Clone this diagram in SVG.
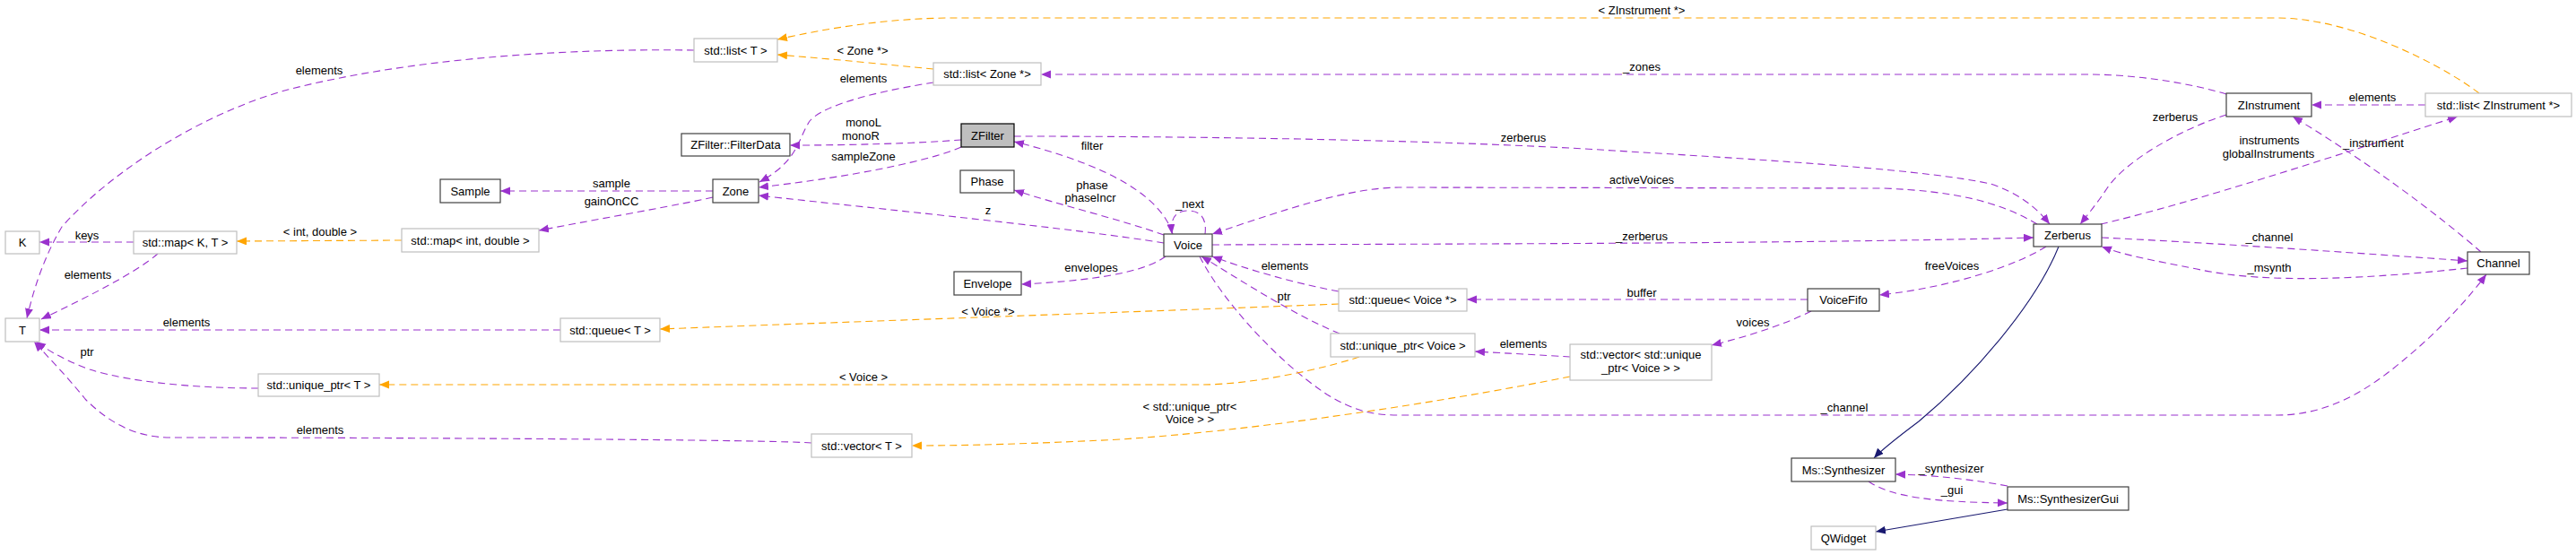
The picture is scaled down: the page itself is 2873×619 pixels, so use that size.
<svg xmlns="http://www.w3.org/2000/svg" width="2873" height="619" viewBox="0 0 2873 619">
<defs>
<style>
text{font-family:"Liberation Sans",Arial,sans-serif;font-size:13px;text-anchor:middle;fill:#000}
.n rect{fill:#fff;stroke:#404040;stroke-width:1.2}
.x rect{fill:#fff;stroke:#bfbfbf;stroke-width:1.2}
.m rect{fill:#bfbfbf;stroke:#000;stroke-width:1.2}
.u{fill:none;stroke:#9a32cd;stroke-width:1.1;stroke-dasharray:8,5;marker-end:url(#ap)}
.o{fill:none;stroke:#ffa500;stroke-width:1.1;stroke-dasharray:8,5;marker-end:url(#ao)}
.b{fill:none;stroke:#191970;stroke-width:1.1;marker-end:url(#ab)}
</style>
<marker id="ap" markerUnits="userSpaceOnUse" markerWidth="12" markerHeight="10" refX="11" refY="4.5" orient="auto"><path d="M0,0 L11,4.5 L0,9 z" fill="#9a32cd"/></marker>
<marker id="ao" markerUnits="userSpaceOnUse" markerWidth="12" markerHeight="10" refX="11" refY="4.5" orient="auto"><path d="M0,0 L11,4.5 L0,9 z" fill="#ffa500"/></marker>
<marker id="ab" markerUnits="userSpaceOnUse" markerWidth="12" markerHeight="10" refX="11" refY="4.5" orient="auto"><path d="M0,0 L11,4.5 L0,9 z" fill="#191970"/></marker>
</defs>
<rect width="2873" height="619" fill="#fff"/>
<g id="edges">
<path class="u" d="M774,56 C650,54 470,62 321,100 C220,128 120,195 69,253 C50,285 38,320 30,355"/>
<path class="u" d="M149,270 L44,270"/>
<path class="u" d="M176,283 C150,305 100,330 46,356"/>
<path class="u" d="M625,368 L44,368"/>
<path class="u" d="M288,433 C230,433 150,428 100,412 C78,404 58,394 40,381"/>
<path class="u" d="M905,494 C850,490 400,488 190,488 C150,488 120,470 95,445 C75,420 55,400 38,381"/>
<path class="u" d="M795,213 L558,213"/>
<path class="u" d="M795,220 C760,228 680,242 601,257"/>
<path class="u" d="M1041,92 C990,100 920,115 903,135 C890,155 890,180 847,203"/>
<path class="u" d="M1072,156 C1020,160 950,162 881,162"/>
<path class="u" d="M1072,164 C1040,178 960,196 846,209"/>
<path class="u" d="M1298,271 C1200,255 1000,235 846,218"/>
<path class="u" d="M1308,261 C1295,220 1240,185 1131,158"/>
<path class="u" d="M1298,262 C1250,245 1180,228 1131,212"/>
<path class="u" d="M1344,261 C1346,245 1340,235 1325,235 C1312,235 1305,242 1307,261"/>
<path class="u" d="M1300,286 C1280,300 1240,312 1139,317"/>
<path class="u" d="M2272,250 C2230,225 2180,213 2100,210 L1560,209 C1500,210 1430,235 1352,261"/>
<path class="u" d="M1352,273 C1600,272 2000,272 2268,265"/>
<path class="u" d="M1131,152 C1300,152 1600,155 1800,168 C2000,180 2150,190 2220,205 C2250,215 2270,230 2286,250"/>
<path class="u" d="M2483,105 C2440,92 2380,83 2329,83 L1161,83"/>
<path class="u" d="M2483,128 C2430,145 2370,180 2350,210 C2338,228 2328,240 2320,250"/>
<path class="u" d="M2705,117 L2578,117"/>
<path class="u" d="M2343,250 C2450,225 2600,175 2741,130"/>
<path class="u" d="M2767,281 C2720,240 2640,180 2557,130"/>
<path class="u" d="M2344,265 C2450,270 2600,280 2752,291"/>
<path class="u" d="M2752,299 C2650,310 2530,318 2450,300 C2400,290 2370,285 2344,275"/>
<path class="u" d="M2282,275 C2250,295 2180,320 2096,329"/>
<path class="u" d="M2016,334 L1636,334"/>
<path class="u" d="M2020,347 C1990,362 1950,375 1909,385"/>
<path class="u" d="M1751,398 C1720,396 1680,394 1645,392"/>
<path class="u" d="M1493,325 C1440,315 1390,300 1352,286"/>
<path class="u" d="M1494,372 C1440,350 1380,310 1340,286"/>
<path class="u" d="M1338,286 C1360,330 1420,400 1480,440 C1510,458 1530,463 1560,463 L2540,463 C2610,463 2660,420 2700,385 C2730,358 2755,330 2773,306"/>
<path class="u" d="M2239,542 C2200,535 2160,530 2114,529"/>
<path class="u" d="M2084,537 C2110,555 2160,560 2239,561"/>
<path class="o" d="M1041,77 C990,72 930,66 867,61"/>
<path class="o" d="M2765,104 C2720,70 2620,20 2540,20 L1063,20 C990,20 920,32 867,44"/>
<path class="o" d="M448,268 L264,269"/>
<path class="o" d="M1493,339 C1400,343 1000,357 736,367"/>
<path class="o" d="M1516,398 C1480,410 1400,429 1340,429 L423,429"/>
<path class="o" d="M1751,420 C1600,450 1400,480 1250,490 C1150,495 1080,497 1017,497"/>
<path class="b" d="M2296,275 C2270,340 2200,420 2140,470 C2120,485 2100,500 2090,511"/>
<path class="b" d="M2239,568 L2092,593"/>
<g id="edge-labels">
<text x="356" y="83">elements</text>
<text x="97" y="267">keys</text>
<text x="98" y="311">elements</text>
<text x="208" y="364">elements</text>
<text x="97" y="397">ptr</text>
<text x="357" y="484">elements</text>
<text x="357" y="263">&lt; int, double &gt;</text>
<text x="682" y="209">sample</text>
<text x="682" y="229">gainOnCC</text>
<text x="962" y="61">&lt; Zone *&gt;</text>
<text x="963" y="92">elements</text>
<text x="963" y="141">monoL</text>
<text x="960" y="156">monoR</text>
<text x="963" y="179">sampleZone</text>
<text x="1102" y="239">z</text>
<text x="1218" y="167">filter</text>
<text x="1218" y="211">phase</text>
<text x="1216" y="225">phaseIncr</text>
<text x="1327" y="232">_next</text>
<text x="1217" y="303">envelopes</text>
<text x="1102" y="352">&lt; Voice *&gt;</text>
<text x="963" y="425">&lt; Voice &gt;</text>
<text x="1327" y="458">&lt; std::unique_ptr&lt;</text>
<text x="1327" y="472">Voice &gt; &gt;</text>
<text x="1831" y="16">&lt; ZInstrument *&gt;</text>
<text x="1831" y="79">_zones</text>
<text x="1699" y="158">zerberus</text>
<text x="1831" y="205">activeVoices</text>
<text x="1831" y="268">_zerberus</text>
<text x="1433" y="301">elements</text>
<text x="1432" y="335">ptr</text>
<text x="1831" y="331">buffer</text>
<text x="1955" y="364">voices</text>
<text x="1699" y="388">elements</text>
<text x="2057" y="459">_channel</text>
<text x="2426" y="135">zerberus</text>
<text x="2646" y="113">elements</text>
<text x="2531" y="161">instruments</text>
<text x="2530" y="176">globalInstruments</text>
<text x="2647" y="164">_instrument</text>
<text x="2531" y="269">_channel</text>
<text x="2531" y="303">_msynth</text>
<text x="2177" y="301">freeVoices</text>
<text x="2176" y="527">_synthesizer</text>
<text x="2177" y="551">_gui</text>
</g>
</g>
<g id="K" class="x"><rect x="6" y="258" width="38" height="25"/><text x="25" y="275">K</text></g>
<g id="map_KT" class="x"><rect x="149" y="258" width="115" height="25"/><text x="206.5" y="275">std::map&lt; K, T &gt;</text></g>
<g id="T" class="x"><rect x="6" y="355" width="38" height="26"/><text x="25" y="372.5">T</text></g>
<g id="list_T" class="x"><rect x="774" y="43" width="93" height="26"/><text x="820.5" y="60.5">std::list&lt; T &gt;</text></g>
<g id="map_int_double" class="x"><rect x="448" y="255" width="153" height="26"/><text x="524.5" y="272.5">std::map&lt; int, double &gt;</text></g>
<g id="Sample" class="n"><rect x="491" y="200" width="67" height="26"/><text x="524.5" y="217.5">Sample</text></g>
<g id="queue_T" class="x"><rect x="625" y="355" width="111" height="26"/><text x="680.5" y="372.5">std::queue&lt; T &gt;</text></g>
<g id="unique_ptr_T" class="x"><rect x="288" y="417" width="135" height="25"/><text x="355.5" y="434">std::unique_ptr&lt; T &gt;</text></g>
<g id="vector_T" class="x"><rect x="905" y="484" width="112" height="26"/><text x="961" y="501.5">std::vector&lt; T &gt;</text></g>
<g id="FilterData" class="n"><rect x="760" y="149" width="121" height="25"/><text x="820.5" y="166">ZFilter::FilterData</text></g>
<g id="Zone" class="n"><rect x="795" y="200" width="51" height="26"/><text x="820.5" y="217.5">Zone</text></g>
<g id="list_Zone" class="x"><rect x="1041" y="70" width="120" height="25"/><text x="1101" y="87">std::list&lt; Zone *&gt;</text></g>
<g id="ZFilter" class="m"><rect x="1072" y="138" width="59" height="26"/><text x="1101.5" y="155.5">ZFilter</text></g>
<g id="Phase" class="n"><rect x="1071" y="190" width="60" height="25"/><text x="1101" y="207">Phase</text></g>
<g id="Envelope" class="n"><rect x="1064" y="303" width="75" height="26"/><text x="1101.5" y="320.5">Envelope</text></g>
<g id="Voice" class="n"><rect x="1298" y="261" width="54" height="25"/><text x="1325" y="278">Voice</text></g>
<g id="queue_Voice" class="x"><rect x="1493" y="322" width="143" height="25"/><text x="1564.5" y="339">std::queue&lt; Voice *&gt;</text></g>
<g id="unique_ptr_Voice" class="x"><rect x="1484" y="372" width="161" height="26"/><text x="1564.5" y="389.5">std::unique_ptr&lt; Voice &gt;</text></g>
<g id="vector_unique_ptr_Voice" class="x"><rect x="1751" y="384" width="158" height="40"/><text x="1830" y="400">std::vector&lt; std::unique</text><text x="1830" y="415">_ptr&lt; Voice &gt; &gt;</text></g>
<g id="VoiceFifo" class="n"><rect x="2016" y="322" width="80" height="25"/><text x="2056" y="339">VoiceFifo</text></g>
<g id="Zerberus" class="n"><rect x="2268" y="250" width="76" height="25"/><text x="2306" y="267">Zerberus</text></g>
<g id="ZInstrument" class="n"><rect x="2483" y="104" width="95" height="26"/><text x="2530.5" y="121.5">ZInstrument</text></g>
<g id="list_ZInstrument" class="x"><rect x="2705" y="104" width="163" height="26"/><text x="2786.5" y="121.5">std::list&lt; ZInstrument *&gt;</text></g>
<g id="Channel" class="n"><rect x="2752" y="281" width="69" height="25"/><text x="2786.5" y="298">Channel</text></g>
<g id="Synthesizer" class="n"><rect x="1998" y="511" width="116" height="26"/><text x="2056" y="528.5">Ms::Synthesizer</text></g>
<g id="SynthesizerGui" class="n"><rect x="2239" y="543" width="135" height="26"/><text x="2306.5" y="560.5">Ms::SynthesizerGui</text></g>
<g id="QWidget" class="x"><rect x="2020" y="587" width="72" height="26"/><text x="2056" y="604.5">QWidget</text></g>
</svg>
